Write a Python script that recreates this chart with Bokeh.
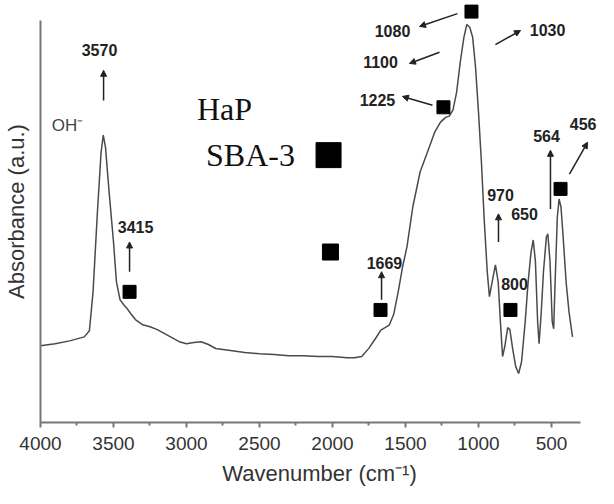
from bokeh.plotting import figure
from bokeh.models import Range1d, FixedTicker, ColumnDataSource, Arrow, NormalHead
from bokeh.core.properties import value
from bokeh.embed import file_html
from bokeh.resources import INLINE

# ---------------- data ----------------
wavenumber = [4000, 3900, 3800, 3700, 3665, 3640, 3610, 3585, 3570, 3555,
              3530, 3500, 3480, 3455, 3430, 3410, 3380, 3350, 3300, 3250,
              3200, 3150, 3100, 3050, 3000, 2950, 2900, 2850, 2800, 2700,
              2600, 2500, 2400, 2300, 2200, 2100, 2000, 1900, 1850, 1800,
              1750, 1700, 1669, 1640, 1610, 1580, 1550, 1520, 1490, 1450,
              1400, 1350, 1300, 1260, 1225, 1200, 1175, 1150, 1125, 1100,
              1080, 1060, 1040, 1020, 1000, 980, 960, 940, 925, 900,
              884, 865, 850, 835, 820, 800, 785, 765, 745, 725,
              705, 680, 660, 640, 625, 610, 595, 585, 570, 555,
              535, 525, 510, 495, 485, 475, 460, 448, 435, 420,
              400, 380, 356]
absorbance = [0.191, 0.196, 0.203, 0.213, 0.228, 0.325, 0.524, 0.672, 0.715, 0.685,
              0.573, 0.449, 0.350, 0.305, 0.293, 0.285, 0.270, 0.256, 0.243, 0.238,
              0.231, 0.221, 0.211, 0.201, 0.196, 0.199, 0.201, 0.194, 0.184, 0.179,
              0.174, 0.171, 0.169, 0.166, 0.166, 0.164, 0.164, 0.161, 0.161, 0.164,
              0.185, 0.212, 0.230, 0.236, 0.243, 0.270, 0.325, 0.387, 0.437, 0.536,
              0.623, 0.672, 0.722, 0.747, 0.759, 0.762, 0.777, 0.821, 0.896, 0.958,
              0.990, 0.983, 0.958, 0.883, 0.772, 0.648, 0.499, 0.375, 0.313, 0.362,
              0.392, 0.350, 0.251, 0.164, 0.189, 0.236, 0.231, 0.181, 0.139, 0.122,
              0.151, 0.251, 0.350, 0.424, 0.454, 0.400, 0.251, 0.196, 0.275, 0.375,
              0.461, 0.469, 0.400, 0.251, 0.233, 0.350, 0.511, 0.556, 0.536, 0.461,
              0.350, 0.275, 0.213]

x_ticks = [4000, 3500, 3000, 2500, 2000, 1500, 1000, 500]
x_minor = [3750, 3250, 2750, 2250, 1750, 1250, 750]

# black square markers (wavenumber, absorbance)
marker_wn = [3390, 1671, 1240, 1048, 781, 438, 2014, 2027]
marker_ab = [0.325, 0.280, 0.784, 1.022, 0.280, 0.581, 0.424, 0.665]

# peak labels (centred)
peak_text = ["3570", "3415", "1669", "1225", "1100", "1080", "1030", "970", "650", "800", "564"]
peak_wn = [3596, 3349, 1644, 1692, 1671, 1589, 527, 849, 685, 753, 534]
peak_ab = [0.926, 0.486, 0.397, 0.801, 0.896, 0.973, 0.975, 0.566, 0.519, 0.345, 0.712]

# right-aligned label at the edge
edge_text, edge_wn, edge_ab = ["456"], [192], [0.742]

# arrows
arr_x0 = [3568, 3390, 1664, 1315, 1267, 1144, 884, 863, 507, 377]
arr_y0 = [0.801, 0.375, 0.305, 0.789, 0.921, 1.017, 0.940, 0.449, 0.531, 0.618]
arr_x1 = [3568, 3390, 1664, 1521, 1473, 1404, 712, 863, 507, 253]
arr_y1 = [0.876, 0.449, 0.375, 0.811, 0.893, 0.985, 0.975, 0.519, 0.677, 0.697]

# other texts
oh_text, oh_wn, oh_ab = ["OH\u207b"], [3815], [0.739]
legend_text = ["HaP", "SBA-3"]
legend_wn = [2740, 2562]
legend_ab = [0.779, 0.665]

# ---------------- styles ----------------
marker_sizes = [13, 13, 13, 13, 13, 13, 16, 25]
SANS = value("Liberation Sans")

p = figure(width=598, height=488, output_backend="svg", toolbar_location=None,
           x_range=Range1d(4000, 178), y_range=Range1d(0, 1.0496),
           min_border_left=40, min_border_right=0, min_border_top=0,
           min_border_bottom=65)
p.outline_line_color = None
p.xgrid.visible = False
p.ygrid.visible = False
p.background_fill_color = "white"

# axes
p.xaxis.ticker = FixedTicker(ticks=x_ticks, minor_ticks=x_minor)
p.xaxis.bounds = (4000, 301)
p.xaxis.axis_line_color = "#777777"
p.xaxis.axis_line_width = 2
p.xaxis.major_tick_line_color = "#777777"
p.xaxis.minor_tick_line_color = "#777777"
p.xaxis.major_tick_line_width = 2
p.xaxis.minor_tick_line_width = 2
p.xaxis.major_tick_out = 5
p.xaxis.major_tick_in = 0
p.xaxis.minor_tick_out = 3
p.xaxis.minor_tick_in = 0
p.xaxis.major_label_standoff = 9
p.xaxis.major_label_text_font = "Liberation Sans"
p.xaxis.major_label_text_font_size = "19px"
p.xaxis.major_label_text_color = "#333333"
p.xaxis.axis_label = "Wavenumber (cm\u207b\u00b9)"
p.xaxis.axis_label_text_font = "Liberation Sans"
p.xaxis.axis_label_text_font_size = "22px"
p.xaxis.axis_label_text_font_style = "normal"
p.xaxis.axis_label_text_color = "#333333"
p.xaxis.axis_label_standoff = 8

p.yaxis.ticker = FixedTicker(ticks=[])
p.yaxis.bounds = (0, 1.0)
p.yaxis.axis_line_color = "#777777"
p.yaxis.axis_line_width = 2
p.yaxis.major_tick_out = 0
p.yaxis.minor_tick_out = 0
p.yaxis.axis_label = "Absorbance (a.u.)"
p.yaxis.axis_label_text_font = "Liberation Sans"
p.yaxis.axis_label_text_font_size = "22px"
p.yaxis.axis_label_text_font_style = "normal"
p.yaxis.axis_label_text_color = "#333333"
p.yaxis.axis_label_standoff = 12

# spectrum
p.line(wavenumber, absorbance, line_color="#4a4a4a", line_width=1.5)

# markers
p.scatter(marker_wn, marker_ab, marker="square", size=marker_sizes,
          fill_color="black", line_color="black")

# arrows
arr_src = ColumnDataSource(dict(x0=arr_x0, y0=arr_y0, x1=arr_x1, y1=arr_y1))
p.add_layout(Arrow(end=NormalHead(size=6, fill_color="#222222", line_color="#222222"),
                   x_start="x0", y_start="y0", x_end="x1", y_end="y1",
                   source=arr_src, line_color="#222222", line_width=1.5))

# peak labels
p.text(peak_wn, peak_ab, text=peak_text, text_font=SANS, text_font_style="bold",
       text_font_size="16px", text_color="#222222", text_align="center",
       text_baseline="middle")
p.text(edge_wn, edge_ab, text=edge_text, text_font=SANS, text_font_style="bold",
       text_font_size="16px", text_color="#222222", text_align="right",
       text_baseline="middle")

p.text(oh_wn, oh_ab, text=oh_text, text_font=SANS, text_font_size="17px",
       text_color="#444444", text_align="center", text_baseline="middle")

p.text(legend_wn, legend_ab, text=legend_text, text_font=value("Liberation Serif"),
       text_font_size="32px", text_color="#111111", text_align="center",
       text_baseline="middle")

open("out.html", "w").write(file_html(p, INLINE))
